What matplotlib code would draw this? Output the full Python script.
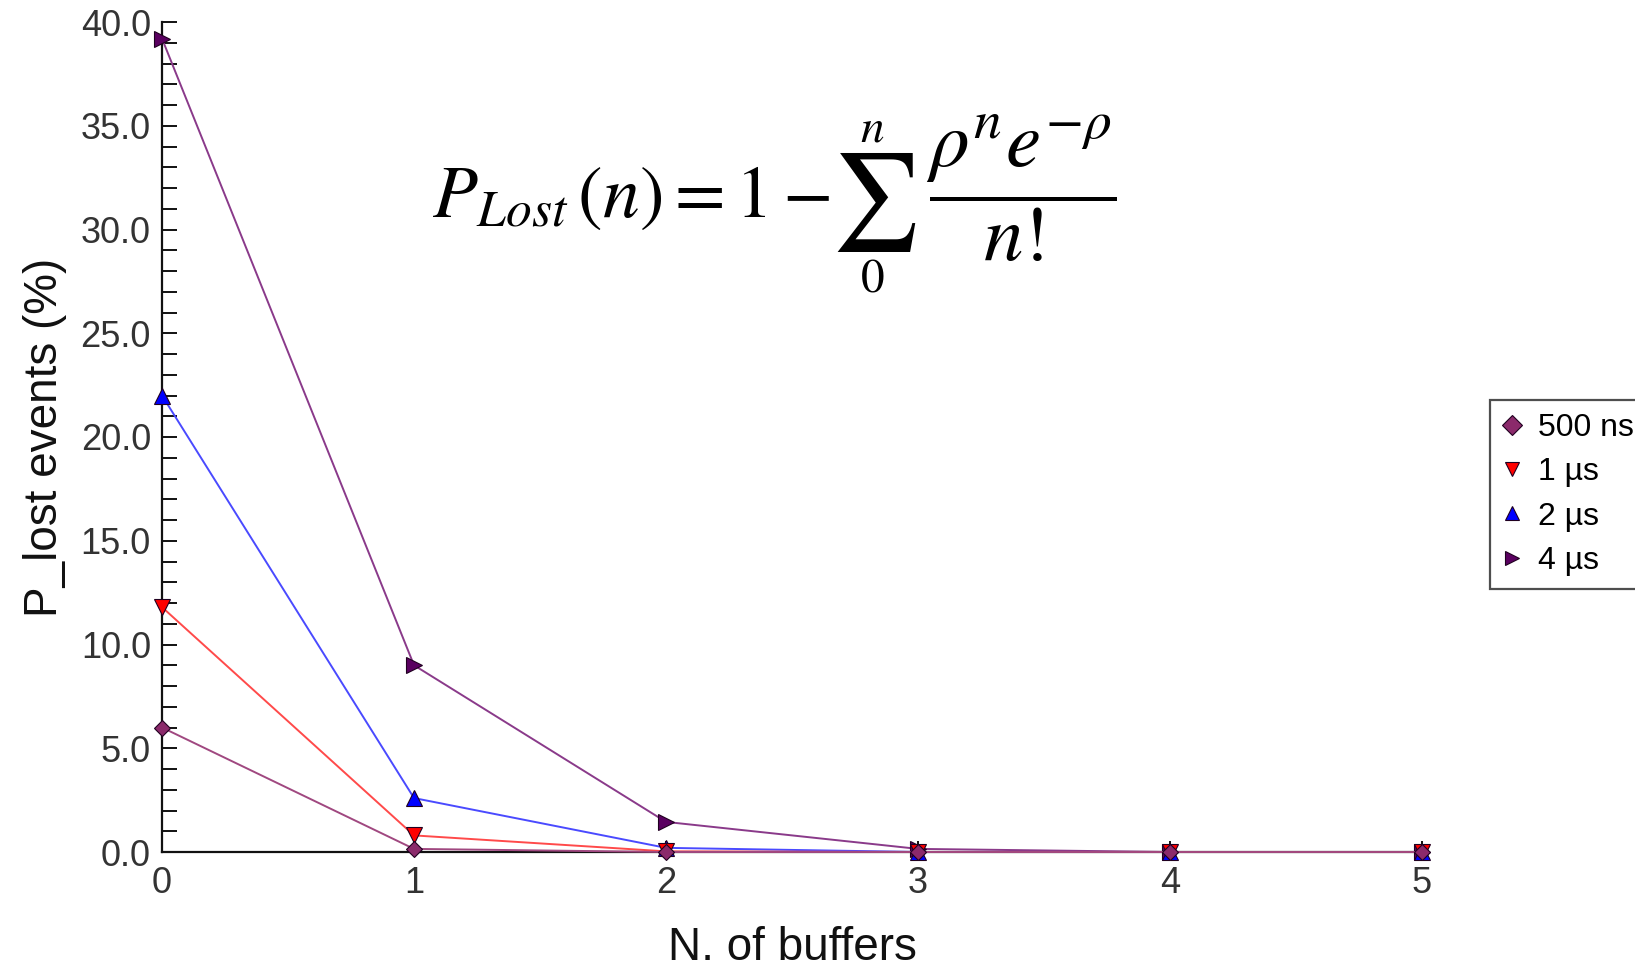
import matplotlib
matplotlib.use("Agg")
import matplotlib.pyplot as plt
from matplotlib.ticker import MultipleLocator

plt.rcParams['font.family'] = ['Liberation Sans', 'DejaVu Sans']
plt.rcParams['mathtext.fontset'] = 'stix'

# Data: lost-event probability (%) vs number of buffers
buffers = [0, 1, 2, 3, 4, 5]
series_labels = ["500 ns", "1 µs", "2 µs", "4 µs"]
p_500ns = [6.0, 0.15, 0.0, 0.0, 0.0, 0.0]
p_1us = [11.8, 0.8, 0.03, 0.0, 0.0, 0.0]
p_2us = [22.0, 2.6, 0.2, 0.0, 0.0, 0.0]
p_4us = [39.2, 9.0, 1.45, 0.15, 0.0, 0.0]

W, H = 1635, 976
fig = plt.figure(figsize=(W / 100, H / 100), dpi=100)
ax = fig.add_axes([162 / W, 1 - 852 / H, (1422 - 162) / W, (852 - 22) / H])

styles = [
    (p_4us, series_labels[3], '>', '#5a0060', '#8a3a8a', 11),
    (p_2us, series_labels[2], '^', '#0000ff', '#4a4aff', 11),
    (p_1us, series_labels[1], 'v', '#ff0000', '#ff4a4a', 11),
    (p_500ns, series_labels[0], 'D', '#8b2a6b', '#a04880', 8),
]
handles = {}
for vals, lab, mk, mfc, lc, ms in styles:
    ln, = ax.plot(buffers, vals, color=lc, lw=1.4, marker=mk, markersize=ms,
                  markerfacecolor=mfc, markeredgecolor='#200020', markeredgewidth=0.8,
                  clip_on=False, zorder=3)
    handles[lab] = ln

ax.set_xlim(0, 5)
ax.set_ylim(0, 40)
ax.spines['top'].set_visible(False)
ax.spines['right'].set_visible(False)
for s in ('left', 'bottom'):
    ax.spines[s].set_linewidth(1.6)
    ax.spines[s].set_color('#111111')

ax.yaxis.set_major_locator(MultipleLocator(5))
ax.yaxis.set_minor_locator(MultipleLocator(1))
ax.xaxis.set_major_locator(MultipleLocator(1))
ax.yaxis.set_major_formatter(plt.FuncFormatter(lambda v, p: f"{v:.1f}"))
ax.tick_params(axis='y', which='both', direction='in', length=11, width=1.4,
               labelsize=26, pad=8, colors='#111111', labelcolor='#333333')
ax.tick_params(axis='x', which='both', direction='in', length=8, width=1.4,
               labelsize=26, pad=10, colors='#111111', labelcolor='#333333')

ax.set_xlabel("N. of buffers", fontsize=33, labelpad=18, color='#111111')
ax.set_ylabel("P_lost events (%)", fontsize=33, labelpad=10, color='#111111')

# Loss-probability formula, assembled so the summation sign can be set large
fs = 53
fig.text(831 / W, 1 - 217 / H, r"$P_{Lost}\,(n) = 1 -$",
         fontsize=fs, ha='right', va='baseline', color='black')
fig.text(874 / W, 1 - 202 / H, r"$\sum$", fontsize=70,
         ha='center', va='center', color='black')
fig.text(872 / W, 1 - 130 / H, r"$n$", fontsize=34,
         ha='center', va='center', color='black')
fig.text(872 / W, 1 - 280 / H, r"$0$", fontsize=34,
         ha='center', va='center', color='black')
fig.text(926 / W, 1 - 163 / H, r"$\dfrac{\rho^{n}e^{-\rho}}{n!}$",
         fontsize=57, ha='left', va='center_baseline', color='black')

leg = fig.legend([handles[l] for l in series_labels], series_labels,
                 loc='upper left', bbox_to_anchor=(1490 / W, 1 - 400 / H),
                 fontsize=23, frameon=True, fancybox=False, handlelength=0.6,
                 handletextpad=0.5, labelspacing=0.45, borderpad=0.4,
                 borderaxespad=0)
for h in leg.legend_handles:
    h.set_linestyle('None')
    h.set_markersize(10)
leg.get_frame().set_edgecolor('#222222')
leg.get_frame().set_linewidth(1.6)

fig.savefig("out.png", dpi=100)
